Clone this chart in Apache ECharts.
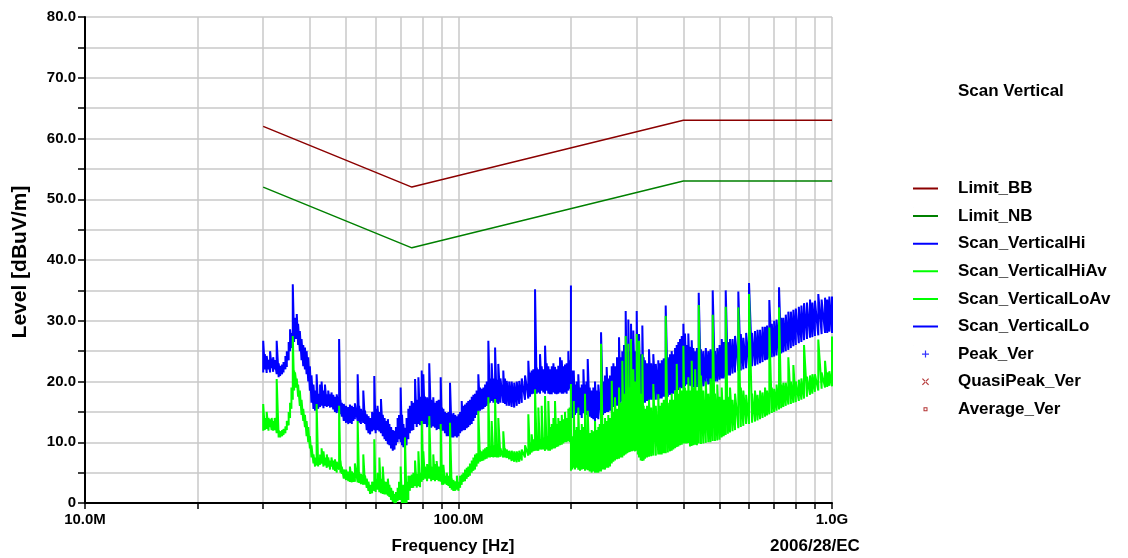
<!DOCTYPE html>
<html>
<head>
<meta charset="utf-8">
<script src="https://cdn.jsdelivr.net/npm/echarts@6.0.0/dist/echarts.min.js"></script>
<style>
html, body { margin: 0; padding: 0; background: #fff; }
#chart { width: 1128px; height: 558px; }
</style>
</head>
<body>
<div id="chart"></div>
<script>
// frequencies in MHz, levels in dBuV/m
var limitBB = [[30, 62], [75, 52], [400, 63], [1000, 63]];
var limitNB = [[30, 52], [75, 42], [400, 53], [1000, 53]];

// scan traces: [MHz, lower edge of band, upper edge of band]
var scanLo = [
    [30.0, 21.5, 26.7], [30.3, 22.0, 24.5], [30.65, 21.4, 24.2], [31.0, 22.0, 23.6], [31.3, 21.5, 25.0],
    [31.6, 22.2, 23.8], [31.9, 21.6, 24.0], [32.2, 22.0, 23.5], [32.6, 21.2, 26.7], [33.0, 20.7, 23.0],
    [33.3, 20.9, 22.6], [33.7, 21.2, 22.8], [34.0, 21.5, 23.2], [34.4, 22.0, 24.2], [34.7, 22.4, 25.0],
    [35.1, 23.5, 26.5], [35.4, 25.0, 28.6], [35.7, 25.5, 28.0], [36.0, 26.0, 36.0], [36.3, 26.5, 30.0],
    [36.5, 27.0, 30.5], [36.9, 27.0, 31.1], [37.2, 26.0, 29.5], [37.6, 25.0, 28.3], [38.0, 23.5, 27.0],
    [38.4, 22.5, 26.0], [38.8, 22.0, 25.6], [39.2, 21.2, 25.0], [39.6, 20.0, 24.0], [40.0, 18.5, 22.5],
    [40.4, 16.5, 21.0], [40.9, 15.5, 19.5], [41.3, 15.2, 18.5], [41.7, 16.0, 21.2], [42.1, 15.5, 18.0],
    [42.6, 15.8, 19.5], [43.0, 16.0, 20.0], [43.5, 15.6, 18.5], [43.9, 16.0, 19.5], [44.4, 15.8, 17.9],
    [44.8, 16.0, 18.5], [45.3, 15.7, 17.9], [45.7, 15.8, 18.2], [46.2, 15.4, 17.8], [46.7, 15.0, 17.5],
    [47.2, 14.8, 17.9], [47.9, 14.8, 27.0], [48.3, 14.6, 17.0], [48.7, 14.2, 16.5], [49.3, 13.5, 16.3],
    [50.0, 13.2, 16.0], [50.7, 13.0, 15.8], [51.2, 13.2, 16.2], [51.8, 13.0, 16.0], [52.3, 13.5, 15.8],
    [52.8, 13.8, 16.4], [53.7, 13.5, 21.2], [54.2, 13.2, 16.0], [54.8, 13.0, 15.5], [55.6, 13.2, 18.5],
    [56.2, 13.0, 15.2], [56.8, 12.0, 14.6], [57.4, 11.5, 14.3], [58.0, 11.3, 14.0], [58.7, 11.8, 15.0],
    [59.5, 12.0, 20.9], [60.0, 11.5, 15.5], [60.7, 12.0, 16.0], [61.4, 11.8, 15.0], [62.0, 11.5, 17.1],
    [62.7, 11.0, 14.5], [63.4, 10.5, 14.0], [64.0, 10.2, 13.5], [64.7, 9.7, 13.8], [65.3, 9.5, 13.0],
    [66.0, 9.0, 12.5], [66.7, 8.6, 12.0], [67.4, 8.8, 11.9], [68.0, 9.5, 12.5], [68.7, 10.0, 14.0],
    [69.3, 10.5, 14.5], [70.0, 10.0, 19.0], [70.6, 9.5, 14.5], [71.2, 9.2, 13.0], [71.9, 9.0, 12.4],
    [72.6, 9.5, 14.0], [73.4, 10.5, 15.5], [74.1, 11.5, 16.0], [74.9, 11.9, 16.8], [75.7, 12.0, 16.5],
    [76.5, 13.0, 20.4], [77.3, 12.5, 17.0], [78.1, 13.0, 20.7], [78.9, 12.8, 17.5], [79.7, 13.2, 21.8],
    [80.5, 13.0, 21.2], [81.3, 13.0, 17.5], [82.4, 12.5, 17.4], [83.5, 12.8, 23.0], [84.5, 12.4, 17.0],
    [85.6, 12.6, 17.4], [86.5, 12.4, 16.5], [87.4, 12.0, 16.8], [88.5, 12.2, 17.0], [89.6, 12.0, 20.7],
    [90.3, 11.9, 15.7], [91.1, 11.9, 15.5], [92.0, 11.5, 15.0], [93.0, 11.0, 14.8], [94.0, 11.0, 15.0],
    [94.9, 11.0, 19.8], [95.9, 10.8, 14.6], [96.9, 10.8, 14.8], [98.0, 11.0, 14.5], [99.0, 10.8, 14.3],
    [100.0, 11.0, 14.6], [101.0, 11.5, 15.0], [102.0, 11.8, 16.8], [103.0, 12.0, 16.0], [104.1, 12.0, 16.2],
    [105.2, 12.3, 16.5], [106.2, 12.5, 16.8], [107.3, 12.8, 17.0], [108.5, 13.0, 17.5], [109.6, 13.5, 17.8],
    [110.7, 14.0, 18.0], [111.8, 14.5, 18.5], [113.0, 15.0, 21.2], [114.2, 15.2, 19.0], [115.4, 15.4, 18.8],
    [116.6, 15.5, 19.0], [117.8, 15.8, 19.5], [119.0, 16.0, 20.0], [120.2, 16.3, 26.7], [121.4, 16.5, 20.5],
    [122.7, 16.8, 23.0], [124.0, 16.5, 20.5], [125.3, 16.8, 25.6], [126.5, 16.5, 20.3], [127.8, 16.3, 22.9],
    [129.5, 16.5, 20.5], [131.8, 16.5, 21.8], [133.2, 16.3, 20.5], [134.6, 16.0, 20.1], [136.7, 16.0, 20.0],
    [138.8, 15.8, 20.0], [141.0, 15.7, 19.8], [143.2, 16.0, 20.0], [145.4, 16.3, 20.1], [147.7, 16.5, 20.5],
    [150.7, 17.0, 21.0], [153.8, 17.2, 23.4], [155.4, 17.5, 21.5], [157.0, 17.9, 21.8], [158.6, 18.0, 22.0],
    [160.3, 18.0, 35.2], [162.0, 18.0, 22.3], [163.6, 18.2, 22.0], [165.3, 18.0, 24.5], [167.0, 18.5, 22.5],
    [168.7, 18.2, 22.0], [170.5, 18.0, 25.9], [172.2, 18.5, 23.0], [174.0, 18.0, 22.5], [175.8, 17.9, 22.0],
    [177.7, 17.9, 22.5], [179.5, 18.2, 23.0], [181.3, 18.0, 22.4], [183.1, 17.9, 22.0], [185.0, 18.0, 22.6],
    [187.0, 18.2, 24.0], [189.0, 18.0, 23.5], [190.9, 18.0, 22.5], [192.8, 18.2, 22.8], [194.8, 18.0, 23.0],
    [196.8, 18.5, 25.0], [198.4, 18.8, 23.5], [200.0, 18.5, 35.8]
];

var scanHi = [
    [200.0, 14.5, 20.0], [201.7, 14.0, 21.8], [203.5, 14.2, 21.8], [205.1, 14.5, 19.5], [207.2, 14.8, 20.0],
    [209.3, 15.0, 21.2], [211.5, 14.5, 19.0], [213.8, 14.0, 19.5], [216.0, 14.8, 22.0], [218.1, 14.5, 19.5],
    [220.0, 14.5, 20.0], [221.8, 14.8, 23.7], [224.5, 14.2, 19.0], [227.3, 14.0, 18.5], [229.6, 13.8, 19.0],
    [232.0, 13.5, 20.0], [234.4, 14.0, 18.5], [236.8, 13.8, 19.5], [240.8, 14.0, 28.1], [243.8, 14.5, 20.0],
    [246.8, 14.8, 21.0], [249.3, 15.0, 22.4], [251.8, 15.0, 20.5], [254.5, 15.2, 21.0], [257.2, 15.5, 22.5],
    [259.8, 15.8, 23.0], [262.4, 16.0, 22.5], [265.7, 16.0, 24.0], [269.0, 16.2, 27.3], [271.7, 16.5, 24.0],
    [274.5, 16.8, 25.0], [277.4, 16.5, 26.0], [280.3, 16.5, 31.6], [282.6, 17.0, 24.5], [284.9, 17.0, 30.2],
    [287.3, 17.0, 25.0], [289.7, 17.5, 29.5], [291.7, 17.0, 25.5], [293.8, 17.0, 28.4], [296.9, 17.2, 25.0],
    [300.0, 17.0, 31.6], [302.1, 17.0, 25.5], [304.3, 16.8, 27.8], [307.4, 16.8, 24.5], [310.6, 16.8, 29.2],
    [313.2, 16.5, 24.0], [315.8, 16.5, 23.5], [319.6, 16.8, 23.0], [323.6, 16.8, 25.3], [327.9, 17.0, 23.0],
    [332.3, 17.0, 24.5], [337.5, 17.0, 22.9], [342.7, 17.0, 23.5], [346.3, 17.2, 23.0], [350.0, 17.2, 23.5],
    [354.3, 17.5, 23.8], [358.7, 17.5, 32.5], [363.5, 17.5, 24.0], [368.4, 17.8, 24.5], [372.2, 18.0, 25.0],
    [376.0, 18.0, 24.5], [380.0, 18.5, 25.5], [383.9, 18.5, 26.0], [387.8, 18.6, 26.5], [391.8, 18.8, 27.0],
    [396.0, 18.9, 27.5], [400.0, 19.0, 29.5], [404.0, 19.2, 27.9], [408.2, 19.5, 26.0], [412.4, 19.6, 27.9],
    [416.7, 19.3, 25.7], [421.1, 19.2, 26.8], [425.3, 19.0, 25.5], [430.0, 19.0, 25.0], [434.8, 19.1, 25.5],
    [439.7, 19.5, 34.6], [445.8, 19.2, 25.3], [452.3, 19.2, 25.0], [459.3, 19.3, 25.5], [466.5, 19.5, 25.0],
    [472.8, 19.6, 25.3], [479.3, 19.8, 35.0], [486.0, 20.0, 25.0], [493.0, 20.0, 25.5], [500.0, 20.3, 26.0],
    [506.7, 20.5, 27.0], [513.0, 20.5, 26.5], [519.3, 20.8, 35.0], [526.3, 21.0, 26.5], [533.3, 21.0, 27.0],
    [541.6, 21.3, 27.0], [550.0, 21.5, 27.5], [561.3, 21.8, 34.8], [570.0, 21.8, 27.8], [578.9, 22.0, 27.2],
    [589.0, 22.2, 28.0], [599.6, 22.4, 36.2], [611.0, 22.5, 28.0], [622.0, 22.6, 28.3], [631.8, 22.8, 28.5],
    [641.7, 23.0, 28.5], [651.7, 23.2, 29.0], [661.7, 23.5, 29.0], [670.0, 23.6, 29.2], [679.5, 23.8, 33.4],
    [690.0, 24.0, 29.5], [700.0, 24.1, 30.0], [710.5, 24.3, 30.2], [721.4, 24.5, 35.5], [731.0, 24.6, 30.5],
    [740.8, 24.8, 30.5], [752.0, 25.0, 31.0], [764.0, 25.2, 31.5], [776.0, 25.5, 31.5], [788.0, 25.8, 31.8],
    [800.0, 26.0, 32.0], [815.0, 26.3, 32.3], [828.0, 26.5, 32.5], [841.6, 26.8, 32.9], [857.0, 27.0, 33.0],
    [873.3, 27.2, 33.5], [886.0, 27.3, 33.0], [900.0, 27.5, 33.3], [919.0, 27.6, 34.4], [938.0, 27.8, 33.5],
    [958.0, 28.0, 33.8], [971.0, 28.0, 33.5], [983.7, 28.2, 34.0], [1000.0, 28.0, 34.0]
];

var scanLoAv = [
    [30.0, 11.9, 16.3], [30.3, 12.0, 14.0], [30.65, 12.2, 15.0], [31.0, 11.9, 14.0], [31.3, 12.5, 13.8],
    [31.6, 12.0, 14.0], [31.9, 11.9, 13.5], [32.2, 12.0, 14.0], [32.6, 11.5, 20.4], [33.0, 10.8, 12.0],
    [33.3, 10.8, 11.8], [33.7, 11.0, 12.0], [34.0, 11.2, 12.2], [34.4, 11.5, 12.6], [34.7, 12.0, 13.5],
    [35.1, 12.8, 15.0], [35.4, 14.0, 16.5], [35.7, 15.5, 19.0], [36.0, 17.0, 27.5], [36.3, 18.5, 21.8],
    [36.5, 19.0, 21.5], [36.9, 19.0, 20.5], [37.2, 17.5, 19.5], [37.6, 16.0, 18.5], [38.0, 14.5, 17.0],
    [38.4, 13.5, 15.5], [38.8, 12.5, 14.5], [39.2, 11.0, 13.5], [39.6, 10.0, 12.5], [40.0, 9.0, 11.0],
    [40.4, 7.5, 9.5], [40.9, 6.5, 8.0], [41.3, 6.0, 7.5], [41.7, 6.2, 16.3], [42.1, 6.0, 7.5],
    [42.6, 6.3, 8.0], [43.0, 6.5, 9.0], [43.5, 6.0, 8.5], [43.9, 6.2, 7.5], [44.4, 5.8, 8.0],
    [44.8, 6.0, 7.5], [45.3, 5.5, 7.0], [45.7, 6.0, 7.5], [46.2, 5.5, 7.0], [46.7, 5.3, 7.2],
    [47.2, 5.0, 6.8], [47.9, 5.5, 16.0], [48.3, 5.0, 7.0], [48.7, 4.8, 6.0], [49.3, 4.0, 5.5],
    [50.0, 3.8, 5.5], [50.7, 3.6, 5.2], [51.2, 3.5, 6.0], [51.8, 3.4, 5.2], [52.3, 3.5, 5.0],
    [52.8, 3.5, 6.5], [53.7, 3.4, 13.5], [54.2, 3.3, 5.0], [54.8, 3.1, 4.8], [55.6, 3.0, 8.0],
    [56.2, 3.0, 4.5], [56.8, 2.5, 4.0], [57.4, 2.0, 3.5], [58.0, 1.5, 3.0], [58.7, 1.6, 3.5],
    [59.5, 2.0, 10.5], [60.0, 1.8, 4.0], [60.7, 2.2, 5.0], [61.4, 1.8, 7.5], [62.0, 1.6, 4.0],
    [62.7, 1.5, 6.0], [63.4, 1.4, 3.5], [64.0, 1.4, 3.5], [64.7, 1.2, 4.0], [65.3, 1.0, 3.0],
    [66.0, 0.5, 2.5], [66.7, 0.2, 2.0], [67.4, 0.0, 1.5], [68.0, 0.0, 1.8], [68.7, 0.3, 2.5],
    [69.3, 0.5, 3.5], [70.0, 0.5, 6.0], [70.6, 0.0, 2.5], [71.2, 0.0, 3.0], [71.9, 0.0, 10.8],
    [72.6, 0.0, 3.5], [73.4, 0.5, 4.5], [74.1, 2.0, 4.5], [74.9, 2.5, 4.7], [75.7, 2.5, 5.0],
    [76.5, 2.8, 7.0], [77.3, 2.5, 4.8], [78.1, 2.8, 8.5], [78.9, 2.6, 5.0], [79.7, 3.5, 13.5],
    [80.5, 3.8, 8.5], [81.3, 4.0, 6.0], [82.4, 3.6, 6.4], [83.5, 4.0, 14.3], [84.5, 3.6, 6.0],
    [85.6, 3.8, 8.0], [86.5, 3.6, 6.4], [87.4, 3.8, 6.9], [88.5, 3.6, 6.0], [89.6, 3.5, 13.0],
    [90.3, 3.0, 5.0], [91.1, 3.0, 6.3], [92.0, 3.2, 4.5], [93.0, 3.0, 5.0], [94.0, 2.8, 4.5],
    [94.9, 2.5, 13.2], [95.9, 2.2, 4.0], [96.9, 2.0, 3.8], [98.0, 2.0, 3.6], [99.0, 2.2, 4.5],
    [100.0, 2.0, 3.5], [101.0, 2.5, 4.5], [102.0, 3.0, 4.7], [103.0, 3.5, 5.0], [104.1, 3.6, 5.5],
    [105.2, 4.0, 5.8], [106.2, 4.3, 6.0], [107.3, 4.5, 6.5], [108.5, 5.0, 7.0], [109.6, 5.3, 7.5],
    [110.7, 5.5, 8.0], [111.8, 6.0, 8.2], [113.0, 6.5, 15.2], [114.2, 6.8, 8.6], [115.4, 6.9, 8.5],
    [116.6, 7.0, 8.8], [117.8, 7.2, 9.0], [119.0, 7.3, 9.2], [120.2, 7.5, 17.4], [121.4, 7.5, 9.2],
    [122.7, 7.6, 13.5], [124.0, 7.5, 9.5], [125.3, 7.6, 17.1], [126.5, 7.5, 9.2], [127.8, 7.5, 14.0],
    [129.5, 7.6, 9.0], [131.8, 7.5, 11.8], [133.2, 7.5, 9.0], [134.6, 7.4, 8.8], [136.7, 7.2, 8.6],
    [138.8, 6.9, 8.6], [141.0, 6.8, 8.5], [143.2, 6.7, 8.5], [145.4, 6.8, 8.6], [147.7, 7.0, 8.8],
    [150.7, 7.5, 9.5], [153.8, 7.8, 14.6], [155.4, 8.0, 10.0], [157.0, 8.3, 11.3], [158.6, 8.5, 10.5],
    [160.3, 8.6, 18.7], [162.0, 8.6, 10.5], [163.6, 8.6, 15.7], [165.3, 8.8, 10.5], [167.0, 8.8, 16.0],
    [168.7, 8.8, 10.8], [170.5, 8.6, 17.6], [172.2, 8.8, 11.0], [174.0, 8.6, 16.8], [175.8, 8.6, 12.5],
    [177.7, 8.8, 13.0], [179.5, 9.0, 14.0], [181.3, 9.0, 16.8], [183.1, 9.2, 13.0], [185.0, 9.3, 14.0],
    [187.0, 9.5, 13.5], [189.0, 9.6, 14.5], [190.9, 9.8, 13.8], [192.8, 10.0, 15.0], [194.8, 10.0, 14.0],
    [196.8, 10.2, 15.5], [198.4, 10.0, 15.7], [200.0, 10.0, 19.6]
];

var scanHiAv = [
    [200.0, 5.3, 12.0], [201.7, 5.5, 11.0], [203.5, 5.8, 16.8], [205.1, 5.5, 12.0], [207.2, 5.8, 12.5],
    [209.3, 5.5, 15.7], [211.5, 5.3, 12.0], [213.8, 5.5, 13.0], [216.0, 5.6, 12.5], [218.1, 5.3, 18.0],
    [220.0, 5.5, 12.0], [221.8, 5.4, 15.2], [224.5, 5.2, 11.5], [227.3, 5.0, 12.0], [229.6, 5.2, 11.8],
    [232.0, 5.0, 13.5], [234.4, 5.0, 12.0], [236.8, 5.0, 12.5], [238.8, 5.2, 13.0], [240.8, 5.2, 26.2],
    [243.8, 5.5, 13.0], [246.8, 5.5, 14.0], [249.3, 5.8, 13.5], [251.8, 5.8, 14.5], [254.5, 6.0, 14.0],
    [257.2, 6.5, 20.1], [259.8, 6.8, 15.0], [262.4, 7.0, 17.4], [265.7, 7.2, 15.5], [269.0, 7.3, 19.0],
    [271.7, 7.5, 16.5], [274.5, 7.5, 23.4], [277.4, 7.8, 18.0], [280.3, 8.0, 27.5], [282.6, 8.2, 19.0],
    [284.9, 8.3, 26.2], [287.3, 8.4, 19.0], [289.7, 8.5, 27.0], [291.7, 8.5, 19.0], [293.8, 8.6, 22.0],
    [296.9, 8.5, 20.0], [300.0, 8.6, 27.8], [302.1, 8.0, 19.0], [304.3, 7.5, 26.7], [307.4, 7.0, 18.0],
    [310.6, 6.9, 24.5], [313.2, 7.0, 16.0], [315.8, 7.3, 15.5], [319.6, 7.5, 16.0], [323.6, 7.6, 17.0],
    [327.9, 7.7, 15.7], [332.3, 7.8, 19.6], [337.5, 7.8, 16.0], [342.7, 8.0, 17.9], [346.3, 8.0, 16.0],
    [350.0, 8.0, 16.5], [354.3, 8.2, 17.0], [358.7, 8.2, 30.8], [363.5, 8.3, 16.5], [368.4, 8.5, 17.0],
    [372.2, 8.6, 18.0], [376.0, 8.8, 17.0], [380.0, 9.0, 18.5], [383.9, 9.2, 22.9], [387.8, 9.3, 18.0],
    [391.8, 9.5, 19.0], [396.0, 9.6, 18.5], [400.0, 9.8, 25.9], [404.0, 9.8, 19.0], [408.2, 9.8, 18.5],
    [412.4, 9.9, 20.7], [416.7, 9.3, 18.5], [421.1, 9.4, 23.4], [425.3, 9.5, 19.0], [430.0, 9.6, 22.0],
    [434.8, 9.5, 18.5], [439.7, 9.8, 32.6], [445.8, 9.7, 21.0], [452.3, 9.8, 18.5], [459.3, 9.9, 20.0],
    [466.5, 10.0, 18.0], [472.8, 10.0, 20.5], [479.3, 10.2, 31.0], [486.0, 10.2, 18.0], [493.0, 10.3, 19.5],
    [500.0, 10.4, 17.5], [506.7, 10.8, 19.0], [513.0, 11.0, 17.0], [519.3, 11.2, 32.3], [526.3, 11.4, 17.5],
    [533.3, 11.6, 19.0], [541.6, 11.8, 17.0], [550.0, 12.0, 18.0], [561.3, 12.3, 32.2], [570.0, 12.5, 19.0],
    [578.9, 12.7, 18.5], [589.0, 13.0, 17.8], [599.6, 13.0, 34.4], [611.0, 13.2, 18.0], [622.0, 13.4, 18.5],
    [631.8, 13.6, 17.8], [641.7, 13.8, 18.5], [651.7, 14.0, 18.2], [661.7, 14.2, 19.0], [670.0, 14.4, 18.5],
    [679.5, 14.6, 28.9], [690.0, 14.8, 19.0], [700.0, 15.0, 18.8], [710.5, 15.2, 19.5], [721.4, 15.4, 32.2],
    [731.0, 15.6, 19.5], [740.8, 15.8, 19.8], [752.0, 16.0, 19.8], [764.0, 16.2, 24.0], [776.0, 16.3, 20.0],
    [788.0, 16.5, 22.7], [800.0, 16.6, 20.0], [815.0, 16.8, 20.3], [828.0, 17.0, 20.5], [841.6, 17.2, 26.0],
    [857.0, 17.5, 20.8], [873.3, 17.8, 21.0], [886.0, 18.0, 21.2], [900.0, 18.3, 21.2], [919.0, 18.5, 26.9],
    [938.0, 18.8, 21.5], [958.0, 19.0, 23.4], [971.0, 19.1, 21.5], [983.7, 19.3, 21.7], [1000.0, 19.2, 27.4]
];

// grid / tick positions on the frequency axis (MHz)
var freqTicks = [10, 20, 30, 40, 50, 60, 70, 80, 90, 100, 200, 300, 400, 500, 600, 700, 800, 900, 1000];
var freqLabels = [10, 100, 1000];

var FONT = "'Liberation Sans', Arial, sans-serif";

// turn [f, low, high] rows into a zigzag so the noisy band gets filled in
function toBand(rows) {
    var out = [];
    for (var i = 0; i < rows.length; i++) {
        out.push([rows[i][0], rows[i][1]]);
        out.push([rows[i][0], rows[i][2]]);
    }
    return out;
}

function freqLabel(v) {
    if (v >= 1000) return (v / 1000).toFixed(1) + 'G';
    return v.toFixed(1) + 'M';
}

// legend marker paths, two tiny specks mark a 25x17 box so the marker keeps its size
var BOX = 'M0,0h0.05v0.05h-0.05z M24.95,16.95h0.05v0.05h-0.05z ';
var lineIcon = 'path://' + BOX + 'M0,7.5h25v2h-25z';
var plusIcon = 'path://' + BOX + 'M11.9,5h1.2v7h-1.2z M9,7.9h7v1.2h-7z';
var crossIcon = 'path://' + BOX + 'M9,5.8L9.8,5L16,11.2L15.2,12z M16,5.8L15.2,5L9,11.2L9.8,12z';
var squareIcon = 'path://' + BOX + 'M10.5,6.5h4v4h-4z M11.5,7.5v2h2v-2z';

var myChart = echarts.init(document.getElementById('chart'));

function lineSeries(name, data, color, width, z) {
    return {
        name: name,
        type: 'line',
        data: data,
        symbol: 'none',
        z: z,
        sampling: null,
        animation: false,
        lineStyle: { color: color, width: width },
        itemStyle: { color: color }
    };
}

var option = {
    animation: false,
    backgroundColor: '#fff',
    grid: { left: 85, right: 296, top: 17, bottom: 55, containLabel: false },
    xAxis: {
        type: 'log',
        logBase: 10,
        min: 10,
        max: 1000,
        axisLine: { show: true, onZero: false, lineStyle: { color: '#000', width: 2 } },
        axisTick: { show: true, length: 6, customValues: freqTicks, lineStyle: { color: '#000', width: 1.5 } },
        axisLabel: {
            customValues: freqLabels,
            formatter: freqLabel,
            margin: 9,
            color: '#000',
            fontFamily: FONT,
            fontWeight: 'bold',
            fontSize: 15
        },
        splitLine: { show: true, lineStyle: { color: '#c8c8c8', width: 1.5 } },
        minorTick: { show: false },
        minorSplitLine: { show: false }
    },
    yAxis: {
        type: 'value',
        min: 0,
        max: 80,
        interval: 5,
        axisLine: { show: true, lineStyle: { color: '#000', width: 2 } },
        axisTick: { show: true, length: 7, lineStyle: { color: '#000', width: 1.5 } },
        axisLabel: {
            formatter: function(v) {
                if (v % 10 != 0) return '';
                return v == 0 ? '0' : v.toFixed(1);
            },
            margin: 9,
            color: '#000',
            fontFamily: FONT,
            fontWeight: 'bold',
            fontSize: 15
        },
        splitLine: { show: true, lineStyle: { color: '#c8c8c8', width: 1.5 } }
    },
    legend: {
        orient: 'vertical',
        left: 913,
        top: 180,
        padding: 0,
        itemWidth: 25,
        itemHeight: 17,
        itemGap: 10.6,
        selectedMode: false,
        textStyle: {
            color: '#000',
            fontFamily: FONT,
            fontWeight: 'bold',
            fontSize: 17,
            padding: [0, 0, 0, 15]
        },
        data: [
            { name: 'Limit_BB', icon: lineIcon },
            { name: 'Limit_NB', icon: lineIcon },
            { name: 'Scan_VerticalHi', icon: lineIcon },
            { name: 'Scan_VerticalHiAv', icon: lineIcon },
            { name: 'Scan_VerticalLoAv', icon: lineIcon },
            { name: 'Scan_VerticalLo', icon: lineIcon },
            { name: 'Peak_Ver', icon: plusIcon },
            { name: 'QuasiPeak_Ver', icon: crossIcon },
            { name: 'Average_Ver', icon: squareIcon }
        ]
    },
    graphic: [
        {
            type: 'text', x: 958, y: 91,
            style: { text: 'Scan Vertical', fill: '#000', font: 'bold 17px ' + FONT, textVerticalAlign: 'middle' }
        },
        {
            type: 'text', x: 20, y: 262, rotation: Math.PI / 2,
            style: { text: 'Level [dBuV/m]', fill: '#000', font: 'bold 21px ' + FONT, textAlign: 'center', textVerticalAlign: 'middle' }
        },
        {
            type: 'text', x: 453, y: 546,
            style: { text: 'Frequency [Hz]', fill: '#000', font: 'bold 17px ' + FONT, textAlign: 'center', textVerticalAlign: 'middle' }
        },
        {
            type: 'text', x: 815, y: 546,
            style: { text: '2006/28/EC', fill: '#000', font: 'bold 17px ' + FONT, textAlign: 'center', textVerticalAlign: 'middle' }
        }
    ],
    series: [
        lineSeries('Limit_BB', limitBB, '#8b0000', 1.5, 4),
        lineSeries('Limit_NB', limitNB, '#008000', 1.5, 4),
        lineSeries('Scan_VerticalHi', toBand(scanHi), '#0000ff', 2, 2),
        lineSeries('Scan_VerticalHiAv', toBand(scanHiAv), '#00ff00', 2, 3),
        lineSeries('Scan_VerticalLoAv', toBand(scanLoAv), '#00ff00', 2, 3),
        lineSeries('Scan_VerticalLo', toBand(scanLo), '#0000ff', 2, 2),
        { name: 'Peak_Ver', type: 'scatter', data: [], itemStyle: { color: '#0000ff' } },
        { name: 'QuasiPeak_Ver', type: 'scatter', data: [], itemStyle: { color: '#a00000' } },
        { name: 'Average_Ver', type: 'scatter', data: [], itemStyle: { color: '#a00000' } }
    ]
};
myChart.setOption(option);
</script>
</body>
</html>
